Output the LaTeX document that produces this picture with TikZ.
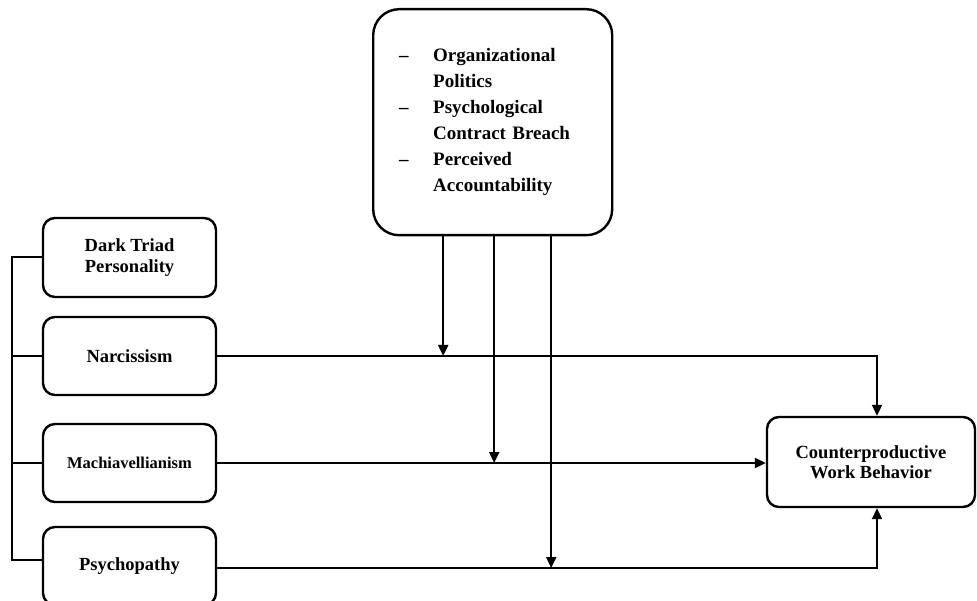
\documentclass[tikz,border=0pt]{standalone}
\usepackage{fontspec}
\setmainfont{Liberation Serif}
\usetikzlibrary{arrows.meta}
\begin{document}
\begin{tikzpicture}[x=1pt,y=1pt,
  box/.style={draw,line width=2.4pt,rounded corners=12pt,align=center,inner sep=0pt,
    font=\bfseries\fontsize{18.5}{21}\selectfont},
  leftbox/.style={box,minimum width=173pt,minimum height=78pt},
  link/.style={line width=2pt},
  arr/.style={link,-{Triangle[length=11pt,width=10pt]}}]
\useasboundingbox (0,0) rectangle (977,-601);
% moderator box
\node[draw,line width=2.4pt,rounded corners=26pt,anchor=north west,minimum width=239pt,
  minimum height=226pt,text width=187pt,inner xsep=26pt,inner ysep=0pt,align=left,
  font=\bfseries\fontsize{19}{26}\selectfont] (mod) at (372,-8)
  {\makebox[34pt][l]{--}Organizational\\ \hspace*{34pt}Politics\\
   \makebox[34pt][l]{--}Psychological\\ \hspace*{34pt}Contract Breach\\
   \makebox[34pt][l]{--}Perceived\\ \hspace*{34pt}Accountability};
% left boxes
\node[leftbox,minimum height=79pt] (dt) at (129.5,-257.5) {Dark Triad\\Personality};
\node[leftbox] (nar) at (129.5,-356) {Narcissism};
\node[leftbox,font=\bfseries\fontsize{16.5}{20}\selectfont] (mac) at (129.5,-463) {Machiavellianism};
\node[leftbox] (psy) at (129.5,-566) {Psychopathy};
% outcome
\node[box,minimum width=208pt,minimum height=90pt,font=\bfseries\fontsize{18.5}{20}\selectfont] (cwb) at (871,-462) {Counterproductive\\Work Behavior};
% helper coordinates
\coordinate (bl) at (12,-258);
\coordinate (psyW) at ([yshift=6pt]psy.west);
\coordinate (psyE) at ([yshift=-2pt]psy.east);
\coordinate (cwbN) at ([xshift=6pt]cwb.north);
\coordinate (cwbS) at ([xshift=6pt]cwb.south);
\coordinate (m1) at ([xshift=-49.5pt]mod.south);
\coordinate (m2) at ([xshift=1.5pt]mod.south);
\coordinate (m3) at ([xshift=58.5pt]mod.south);
% left bracket
\draw[link] (dt.west) -- (dt.west -| bl) -- (bl |- psyW) -- (psyW);
\draw[link] (nar.west) -- (nar.west -| bl);
\draw[link] (mac.west) -- (mac.west -| bl);
% main paths
\draw[arr] (nar.east) -| (cwbN);
\draw[arr] (mac.east) -- (mac.east -| cwb.west);
\draw[arr] (psyE) -| (cwbS);
% moderator arrows
\draw[arr] (m1) -- (m1 |- nar.east);
\draw[arr] (m2) -- (m2 |- mac.east);
\draw[arr] (m3) -- (m3 |- psyE);
\end{tikzpicture}
\end{document}
